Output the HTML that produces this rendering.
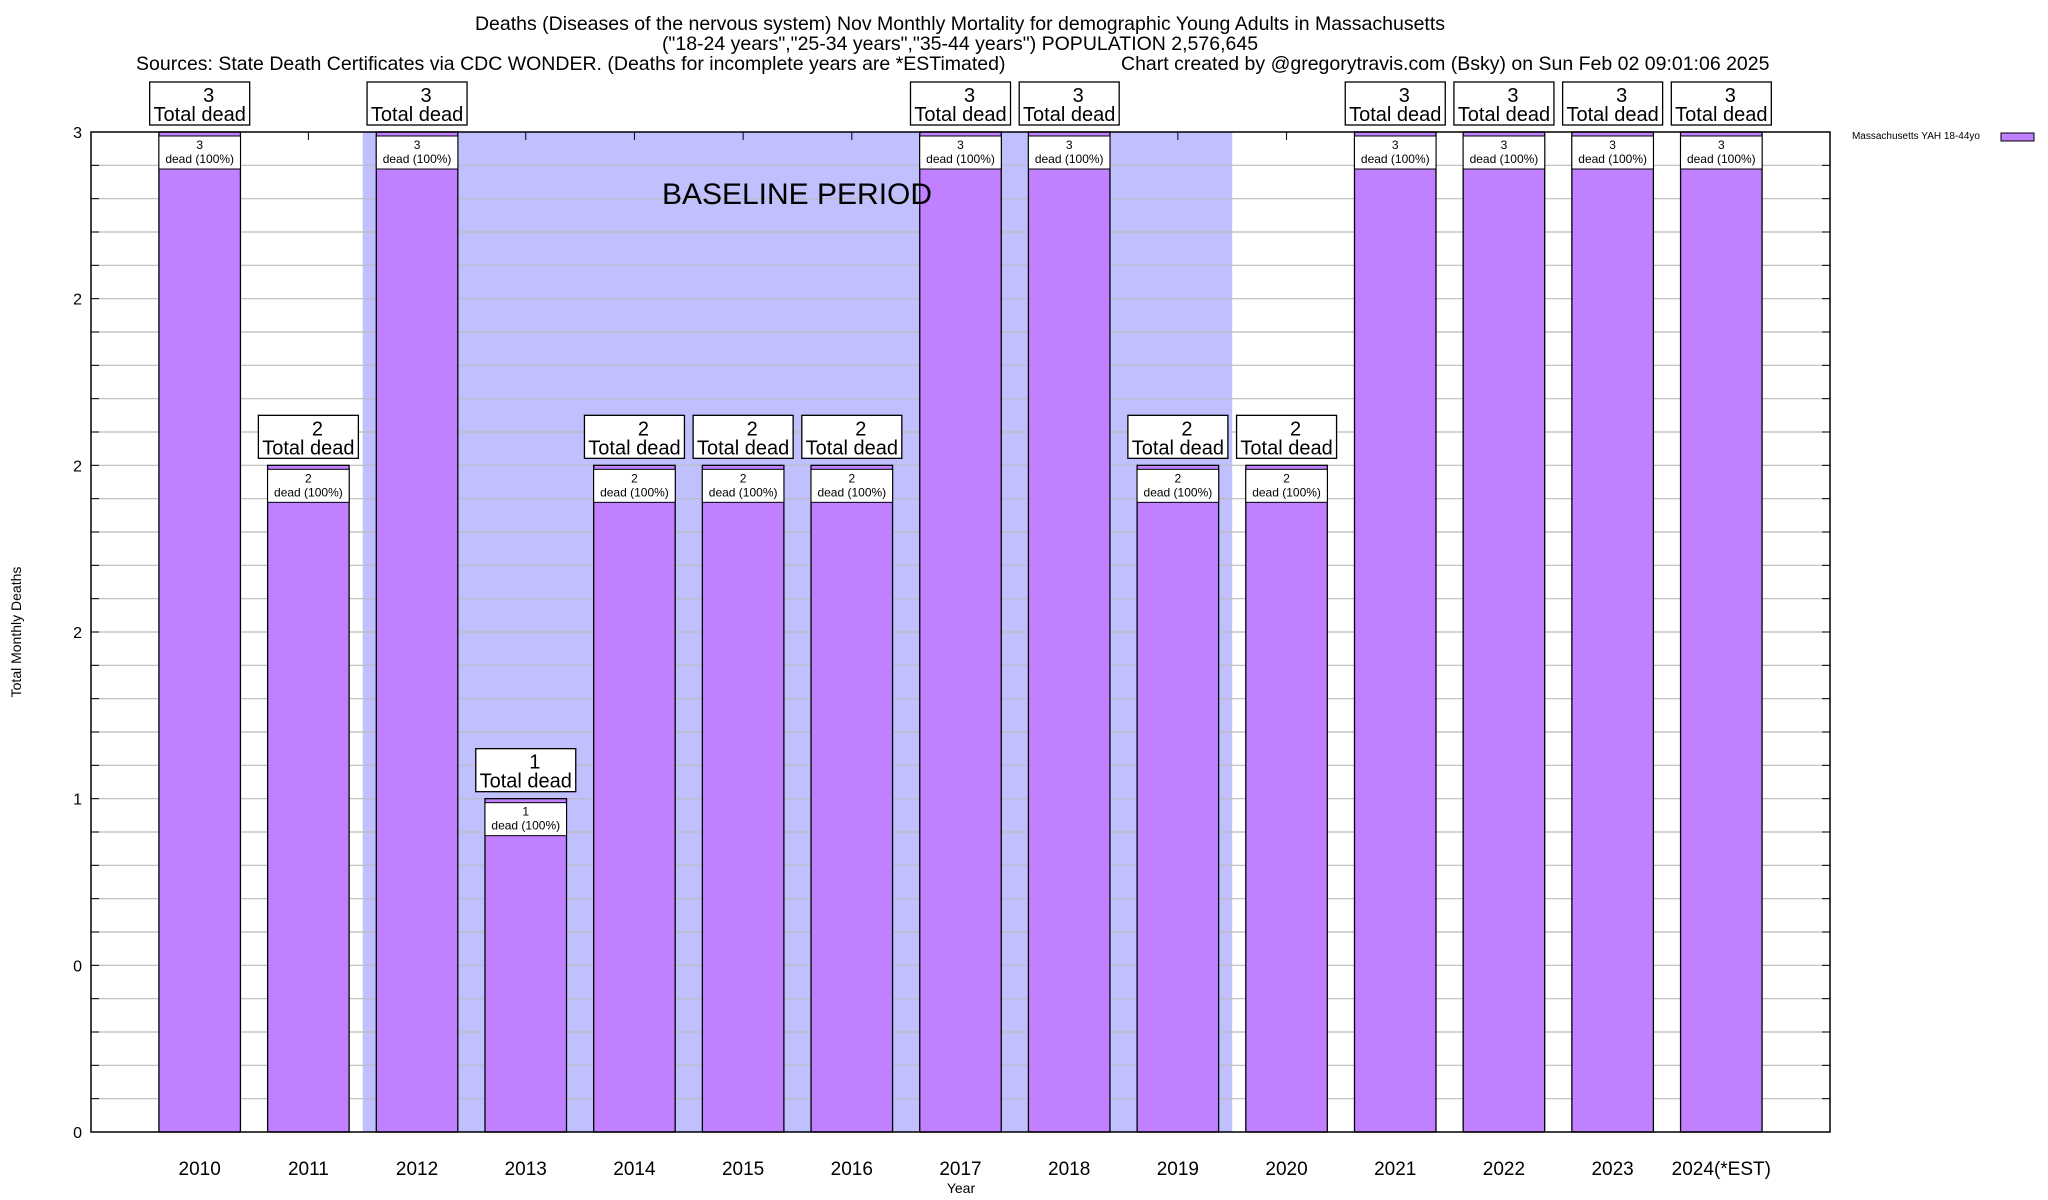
<!DOCTYPE html>
<html><head><meta charset="utf-8"><style>
html,body{margin:0;padding:0;background:#fff;}
svg{display:block;font-family:"Liberation Sans",sans-serif;}
</style></head><body>
<svg id="chart" width="2048" height="1200" viewBox="0 0 2048 1200" xmlns="http://www.w3.org/2000/svg">
<g font-size="19.5" fill="#000">
<text x="960" y="30" text-anchor="middle">Deaths (Diseases of the nervous system) Nov Monthly Mortality for demographic Young Adults in Massachusetts</text>
<text x="960" y="50" text-anchor="middle">("18-24 years","25-34 years","35-44 years") POPULATION 2,576,645</text>
<text x="136" y="70">Sources: State Death Certificates via CDC WONDER. (Deaths for incomplete years are *ESTimated)</text>
<text x="1121" y="70">Chart created by @gregorytravis.com (Bsky) on Sun Feb 02 09:01:06 2025</text>
</g>
<g id="bg"></g>
<g id="grid"></g>
<g id="bars"></g>
<rect x="91" y="132" width="1739" height="1000" fill="none" stroke="#000" stroke-width="1.5"/>
<g id="labels"></g>
<text transform="translate(21,632) rotate(-90)" font-size="14" text-anchor="middle">Total Monthly Deaths</text>
<text x="961" y="1193" font-size="14" text-anchor="middle">Year</text>
<g>
<text x="1980" y="139" font-size="10" text-anchor="end">Massachusetts YAH 18-44yo</text>
<rect x="2001" y="133" width="33" height="8" fill="#c080ff" stroke="#000"/>
</g>
</svg>
<script>
const categories=["2010","2011","2012","2013","2014","2015","2016","2017","2018","2019","2020","2021","2022","2023","2024(*EST)"];
const values=[3,2,3,1,2,2,2,3,3,2,2,3,3,3,3];
const yTickValues=[0,0.5,1,1.5,2,2.5,3];
const yTickLabels=["0","0","1","2","2","2","3"];
const baselineRange=[1.5,9.5];
const L=91,R=1830,T=132,B=1132,NS="http://www.w3.org/2000/svg";
const xs=i=>L+(i+1)*(R-L)/16;
const ys=v=>B-v/3*(B-T);
const bw=(R-L)/16*0.75;
function mk(tag,attrs,parent){const e=document.createElementNS(NS,tag);for(const k in attrs)e.setAttribute(k,attrs[k]);parent.appendChild(e);return e;}
const bg=document.getElementById('bg'),grid=document.getElementById('grid'),bars=document.getElementById('bars'),labels=document.getElementById('labels');
let r=mk('rect',{x:xs(baselineRange[0]),y:T,width:xs(baselineRange[1])-xs(baselineRange[0]),height:B-T,fill:'#c0c0ff'},bg);


for(let k=1;k<30;k++){const v=k*0.1;const y=ys(v);
 const g=mk('line',{x1:L,x2:R,y1:y,y2:y,stroke:'#bbb','stroke-width':1.2},grid);
 
 
 mk('line',{x1:L,x2:L+8,y1:y,y2:y,stroke:'#000'},grid);mk('line',{x1:R,x2:R-8,y1:y,y2:y,stroke:'#000'},grid);}
yTickValues.forEach((v,i)=>{const t=mk('text',{x:82,y:ys(v)+6,'font-size':16,'text-anchor':'end'},labels);t.textContent=yTickLabels[i];
 
 });
categories.forEach((c,i)=>{const x=xs(i),v=values[i],y=ys(v);
 mk('line',{x1:x,x2:x,y1:T,y2:T+8,stroke:'#000'},grid);
 const b=mk('rect',{x:x-bw/2,y:y,width:bw,height:B-y,fill:'#c080ff',stroke:'#000','stroke-width':1.3},bars);
 
 
 const ib=mk('rect',{x:x-bw/2,y:y+4,width:bw,height:33,fill:'#fff',stroke:'#000','stroke-width':1},labels);
 
 
 let t=mk('text',{x:x,y:y+17,'font-size':12,'text-anchor':'middle'},labels);t.textContent=v;
 
 
 t=mk('text',{x:x,y:y+31,'font-size':12,'text-anchor':'middle'},labels);t.textContent='dead (100%)';
 
 
 const ob=mk('rect',{x:x-50,y:y-50,width:100,height:43,fill:'#fff',stroke:'#000','stroke-width':1.3},labels);
 
 
 t=mk('text',{x:x+9,y:y-30,'font-size':20,'text-anchor':'middle'},labels);t.textContent=v;
 
 
 t=mk('text',{x:x,y:y-11,'font-size':20,'text-anchor':'middle'},labels);t.textContent='Total dead';
 
 
 t=mk('text',{x:x,y:1175,'font-size':19,'text-anchor':'middle'},labels);t.textContent=c;
 
 
});
let bt=mk('text',{x:797,y:204,'font-size':30,'text-anchor':'middle'},labels);
bt.textContent='BASELINE PERIOD';


</script>
</body></html>
